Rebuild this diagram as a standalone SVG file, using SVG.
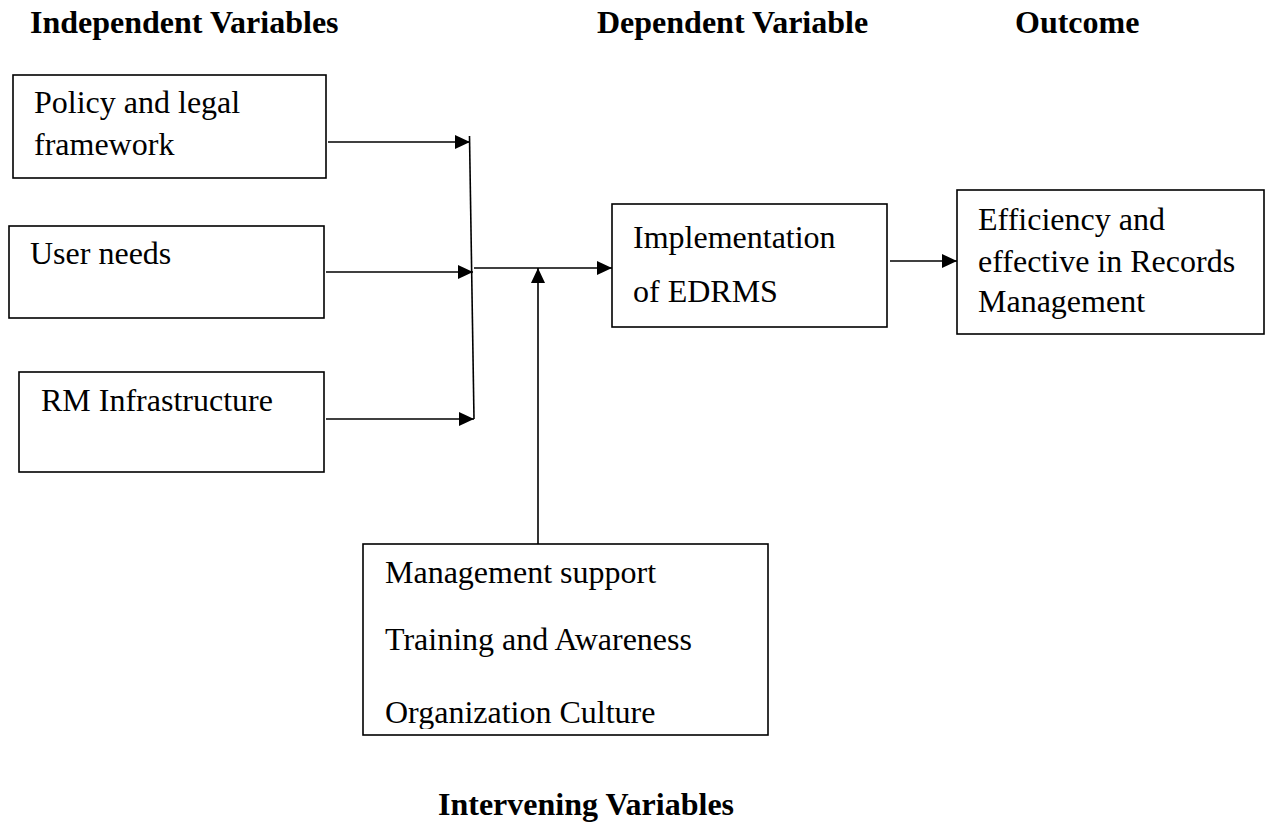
<svg xmlns="http://www.w3.org/2000/svg" width="1265" height="837" viewBox="0 0 1265 837">
<style>
.bg{fill:#fff}
.box{fill:#fff;stroke:#000;stroke-width:1.6}
.t{font-family:"Liberation Serif","Times New Roman",serif;font-size:32px;fill:#000}
.h{font-family:"Liberation Serif","Times New Roman",serif;font-size:32px;font-weight:bold;fill:#000}
.c{stroke:#000;stroke-width:1.6;fill:none}
</style>
<defs>
<marker id="ah" markerUnits="userSpaceOnUse" markerWidth="16" markerHeight="14" refX="15" refY="7" orient="auto">
<path d="M0,0 L15,7 L0,14 z" fill="#000"/>
</marker>
<clipPath id="clipB"><rect x="363" y="544" width="405" height="185"/></clipPath>
</defs>
<rect class="bg" x="0" y="0" width="1265" height="837"/>
<g id="headings">
<text class="h" x="30" y="33">Independent Variables</text>
<text class="h" x="597" y="33">Dependent Variable</text>
<text class="h" x="1015" y="33">Outcome</text>
<text class="h" x="438" y="815">Intervening Variables</text>
</g>
<g id="connectors">
<line class="c" x1="328" y1="142" x2="470" y2="142" marker-end="url(#ah)"/>
<line class="c" x1="326" y1="272" x2="473" y2="272" marker-end="url(#ah)"/>
<line class="c" x1="326" y1="419" x2="474" y2="419" marker-end="url(#ah)"/>
<line class="c" x1="469.5" y1="136" x2="474" y2="419"/>
<line class="c" x1="474" y1="268" x2="612" y2="268" marker-end="url(#ah)"/>
<line class="c" x1="538" y1="544" x2="538" y2="268" marker-end="url(#ah)"/>
<line class="c" x1="890" y1="261" x2="957" y2="261" marker-end="url(#ah)"/>
</g>
<g id="policy">
<rect class="box" x="13" y="75" width="313" height="103"/>
<text class="t" x="34" y="113">Policy and legal</text>
<text class="t" x="34" y="155">framework</text>
</g>
<g id="userneeds">
<rect class="box" x="9" y="226" width="315" height="92"/>
<text class="t" x="30" y="264">User needs</text>
</g>
<g id="rminfra">
<rect class="box" x="19" y="372" width="305" height="100"/>
<text class="t" x="41" y="411">RM Infrastructure</text>
</g>
<g id="edrms">
<rect class="box" x="612" y="204" width="275" height="123"/>
<text class="t" x="633" y="248">Implementation</text>
<text class="t" x="633" y="302">of EDRMS</text>
</g>
<g id="outcome">
<rect class="box" x="957" y="190" width="307" height="144"/>
<text class="t" x="978" y="230">Efficiency and</text>
<text class="t" x="978" y="272">effective in Records</text>
<text class="t" x="978" y="312">Management</text>
</g>
<g id="intervening">
<rect class="box" x="363" y="544" width="405" height="191"/>
<g clip-path="url(#clipB)">
<text class="t" x="385" y="583">Management support</text>
<text class="t" x="385" y="650">Training and Awareness</text>
<text class="t" x="385" y="723">Organization Culture</text>
</g>
</g>
</svg>
